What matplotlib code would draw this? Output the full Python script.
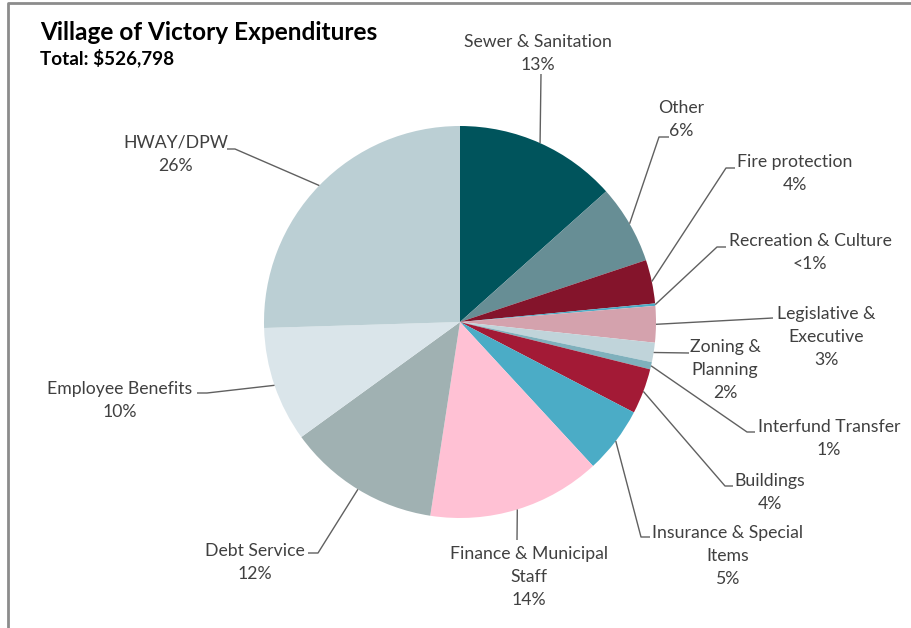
"""Village of Victory expenditures pie chart -> out.png"""

import math

import matplotlib

matplotlib.use("Agg")
import matplotlib.pyplot as plt

W, H = 912, 628

categories = [
    "Sewer & Sanitation", "Other", "Fire protection", "Recreation & Culture",
    "Legislative &\nExecutive", "Zoning &\nPlanning", "Interfund Transfer",
    "Buildings", "Insurance & Special\nItems", "Finance & Municipal\nStaff",
    "Debt Service", "Employee Benefits", "HWAY/DPW",
]
shares = [13.4, 6.5, 3.6, 0.2, 3.0, 1.6, 0.6, 3.75, 5.5, 14.3, 12.6, 9.5, 25.5]
pct_labels = ["13%", "6%", "4%", "<1%", "3%", "2%", "1%", "4%", "5%",
              "14%", "12%", "10%", "26%"]
colors = ["#00545C", "#678E95", "#84142B", "#4BACC6", "#D4A2AD", "#C0D4DA",
          "#7FB0BC", "#A31A36", "#4BACC6", "#FFC1D4", "#A0B1B2", "#DAE5EA",
          "#BBCFD4"]

# label layout in image pixels: text anchor (x, y of first line),
# leader elbow and leader end
layout = [
    dict(xy=(538, 41), elbow=(541, 74), end=(541, 74)),
    dict(xy=(681, 107), elbow=(659, 137), end=(669, 137)),
    dict(xy=(795, 161), elbow=(726, 168), end=(735, 168)),
    dict(xy=(810, 240), elbow=(717, 247), end=(726, 247)),
    dict(xy=(826, 313), elbow=(773, 318), end=(773, 318)),
    dict(xy=(725, 346), elbow=(689, 353), end=(689, 353)),
    dict(xy=(829, 426), elbow=(747, 432), end=(755, 432)),
    dict(xy=(770, 480), elbow=(725, 486), end=(733, 486)),
    dict(xy=(728, 532), elbow=(641, 537), end=(650, 537)),
    dict(xy=(529, 553), elbow=(517, 540), end=(517, 540)),
    dict(xy=(255, 550), elbow=(318, 553), end=(308, 553)),
    dict(xy=(120, 388), elbow=(207, 393), end=(197, 393)),
    dict(xy=(176, 142), elbow=(235, 149), end=(227, 149)),
]

CX, CY, R = 460, 322, 196
FONT = "Lato"
TEXT_COLOR = "#404040"
LINE_H = 23


def Y(y):
    return H - y


def main():
    fig = plt.figure(figsize=(W / 100, H / 100), dpi=100)
    ax = fig.add_axes([0, 0, 1, 1])

    wedges, _ = ax.pie(shares, colors=colors, startangle=90, counterclock=False,
                       center=(CX, Y(CY)), radius=R,
                       wedgeprops=dict(linewidth=0))
    ax.set_xlim(0, W)
    ax.set_ylim(0, H)
    ax.set_aspect("equal")
    ax.axis("off")

    for w, name, pct, lay in zip(wedges, categories, pct_labels, layout):
        mid = math.radians((w.theta1 + w.theta2) / 2)
        sx = CX + R * math.cos(mid)
        sy = Y(CY) + R * math.sin(mid)
        ex, ey = lay["elbow"]
        fx, fy = lay["end"]
        ax.plot([sx, ex, fx], [sy, Y(ey), Y(fy)], color="#606060", lw=1.0,
                solid_capstyle="butt")
        lines = name.split("\n") + [pct]
        x0, y0 = lay["xy"]
        for i, t in enumerate(lines):
            ax.text(x0, Y(y0 + 1 + i * LINE_H), t, ha="center", va="center",
                    fontsize=12.7, family=FONT, color=TEXT_COLOR)

    ax.text(40, Y(32), "Village of Victory Expenditures", ha="left", va="center",
            fontsize=17.6, family=FONT, fontweight="bold", color="black")
    ax.text(40, Y(58), "Total: $526,798", ha="left", va="center",
            fontsize=13.6, family=FONT, fontweight="bold", color="black")

    # chart border (cropped at right and bottom)
    ax.plot([8, 8, W + 5], [-5, Y(3), Y(3)], color="#8C8C8C", lw=2,
            clip_on=False)

    fig.savefig("out.png", dpi=100)
    plt.close(fig)


if __name__ == "__main__":
    main()
